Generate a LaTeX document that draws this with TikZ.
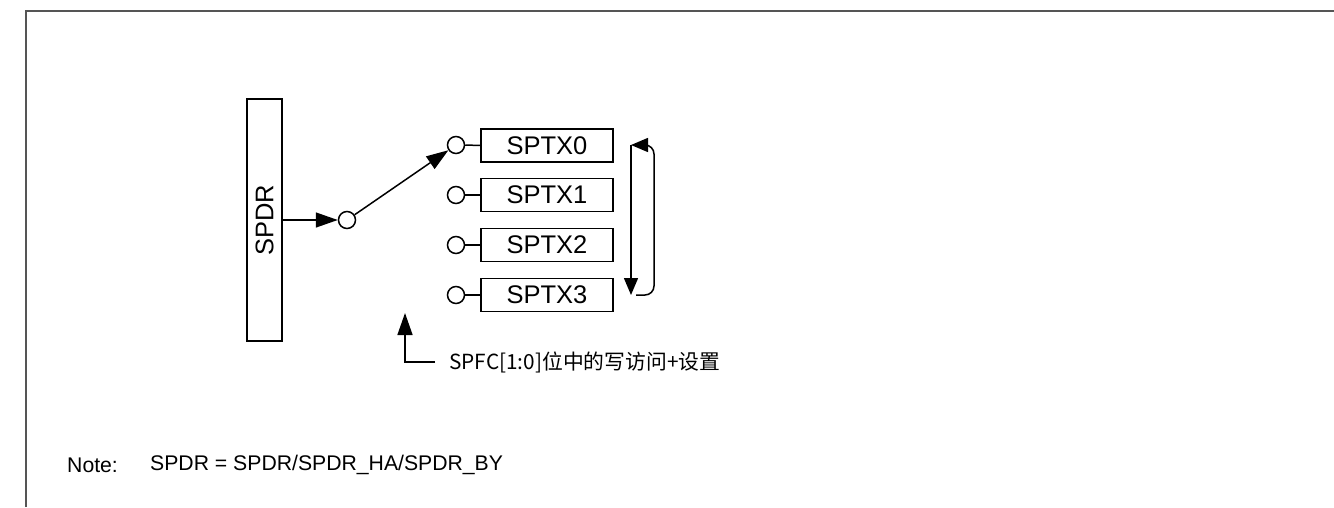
\documentclass[tikz,border=0pt]{standalone}
\usepackage{fontspec}
\setmainfont{Liberation Sans}
\newfontfamily\cjk{Noto Sans CJK SC}
\usetikzlibrary{arrows.meta}
\definecolor{framegray}{RGB}{85,85,85}
\tikzset{
  ln/.style={line width=1.5pt, black},
  bigarrow/.style={ln, -{Triangle[length=22pt,width=15pt]}},
  smallarrow/.style={ln, -{Triangle[length=17pt,width=14pt]}},
  port/.style={circle, draw, line width=1.5pt, fill=white, minimum size=17pt, inner sep=0pt},
  regbox/.style={rectangle, draw, line width=1.5pt, minimum width=132pt, minimum height=33pt, inner sep=0pt, font=\fontsize{25.5}{30}\selectfont},
  notetext/.style={anchor=west, inner sep=0pt, font=\fontsize{21.2}{25}\selectfont},
}
\begin{document}
\begin{tikzpicture}[x=1pt,y=-1pt]
\useasboundingbox (0,0) rectangle (1334,507);
% frame
\draw[framegray, line width=2pt] (26,507) -- (26,11) -- (1334,11);
% SPDR
\node[draw, line width=1.5pt, minimum width=35pt, minimum height=242pt, inner sep=0pt] (spdr) at (264.5,220) {};
\node[rotate=90, inner sep=0pt, font=\fontsize{25.5}{30}\selectfont] (spdrlab) at (spdr.center) {SPDR};
% input switch port
\node[port] (cin) at (347,220) {};
% output ports and registers
\node[port] (c0) at (456,145) {};
\node[port] (c1) at (456,195) {};
\node[port] (c2) at (456,245) {};
\node[port] (c3) at (456,295) {};
\node[regbox] (r0) at (547,145.5) {SPTX0};
\node[regbox] (r1) at (547,195) {SPTX1};
\node[regbox] (r2) at (547,245) {SPTX2};
\node[regbox] (r3) at (547,295) {SPTX3};
\draw[ln] (c0.east) -- (r0.west);
\draw[ln] (c1.east) -- (r1.west);
\draw[ln] (c2.east) -- (r2.west);
\draw[ln] (c3.east) -- (r3.west);
% connectors
\draw[bigarrow] (spdr.east |- cin) -- (cin.west);
\draw[bigarrow] (cin) -- (c0);
% cycle loop
\coordinate (lt) at (631,145);
\coordinate (lb) at (631,295);
\coordinate (lb2) at (636,295);
\coordinate (rb) at (654,295);
\coordinate (rt) at (654,145);
\draw[smallarrow] (lt) -- (lb);
\draw[smallarrow, rounded corners=9pt] (lb2) -- (rb) -- (rt) -- (lt);
% control arrow and label
\node[anchor=west, inner sep=0pt, font=\cjk\fontsize{20.8}{24}\selectfont] (ctl) at (449,362) {SPFC[1:0]位中的写访问+设置};
\coordinate (ch) at (435,362);
\coordinate (cc) at (405,362);
\coordinate (ct) at (405,313);
\draw[bigarrow] (ch) -- (cc) -- (ct);
% note
\node[notetext] (note) at (67,465) {Note:};
\node[notetext] (notebody) at (150,465) {SPDR = SPDR/SPDR\_HA/SPDR\_BY};
\end{tikzpicture}
\end{document}
